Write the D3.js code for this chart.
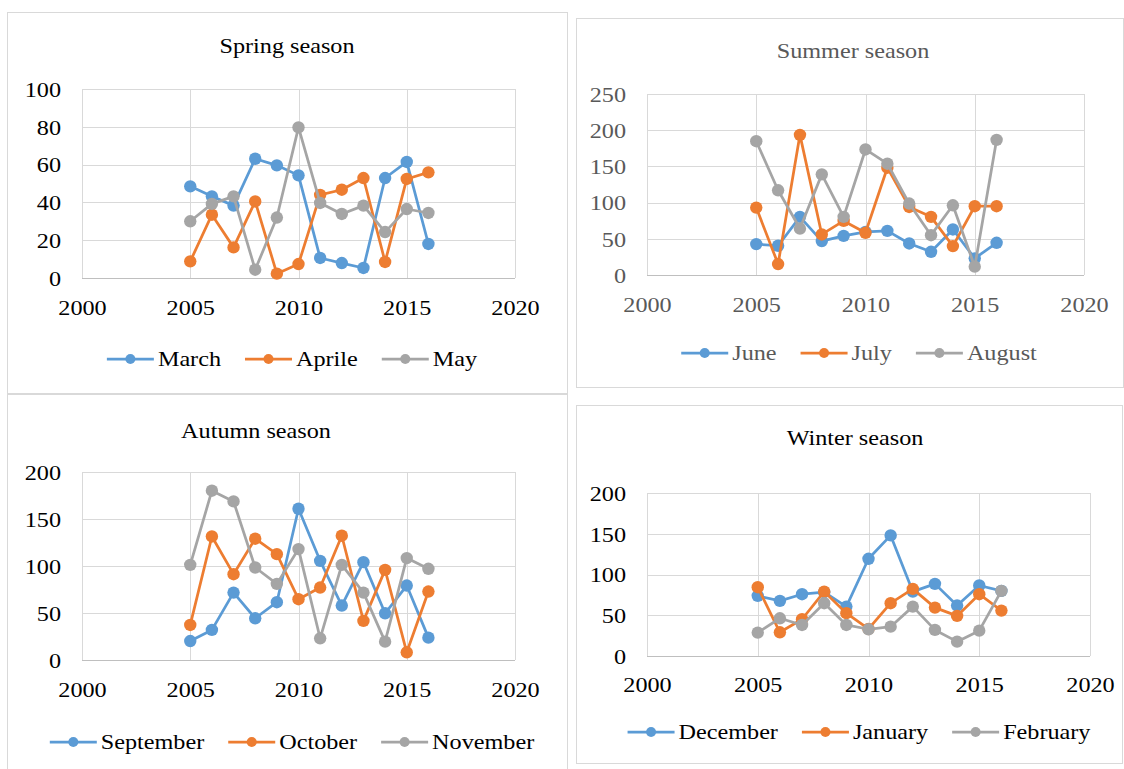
<!DOCTYPE html>
<html><head><meta charset="utf-8">
<script src="https://cdn.jsdelivr.net/npm/d3@7"></script>
<style>
body{margin:0;background:#fff}
svg{display:block}
text{font-family:"Liberation Serif","Times New Roman",serif}
</style>
</head><body>
<svg id="c" width="1124" height="769"></svg>
<script>
// ---------- data ----------
const years = [2005, 2006, 2007, 2008, 2009, 2010, 2011, 2012, 2013, 2014, 2015, 2016];
const xTicks = [2000, 2005, 2010, 2015, 2020];

const springNames = ["March", "Aprile", "May"];
const march  = [48.5, 43.2, 38.3, 63.1, 59.6, 54.3, 10.6, 7.9, 5.3, 52.9, 61.4, 18.0];
const aprile = [8.8, 33.5, 16.2, 40.5, 2.3, 7.4, 44.0, 46.7, 52.9, 8.5, 52.4, 55.9];
const may    = [30.0, 39.2, 43.2, 4.4, 32.0, 79.7, 39.7, 33.9, 38.3, 24.3, 36.5, 34.4];
const springTicks = [0, 20, 40, 60, 80, 100];

const summerNames = ["June", "July", "August"];
const june   = [42.7, 40.4, 80.3, 46.8, 54.1, 59.6, 61.0, 43.6, 32.1, 62.9, 23.0, 44.5];
const july   = [93.1, 15.1, 193.6, 56.0, 74.7, 58.3, 148.2, 94.0, 80.3, 39.9, 95.0, 95.0];
const august = [184.8, 117.0, 64.2, 139.0, 80.3, 173.4, 153.7, 98.7, 55.0, 96.3, 11.5, 186.7];
const summerTicks = [0, 50, 100, 150, 200, 250];

const autumnNames = ["September", "October", "November"];
const september = [20.2, 32.0, 71.7, 44.4, 61.5, 160.9, 105.5, 57.9, 104.1, 49.7, 79.2, 23.8];
const october   = [37.3, 131.4, 91.3, 129.0, 112.6, 64.7, 77.1, 132.2, 41.6, 95.9, 8.2, 72.8];
const november  = [101.2, 180.1, 168.7, 98.4, 81.0, 118.0, 23.1, 101.2, 71.7, 19.5, 108.4, 97.0];
const autumnTicks = [0, 50, 100, 150, 200];

const winterNames = ["December", "January", "February"];
const december = [73.8, 67.6, 75.8, 78.3, 60.6, 119.3, 148.0, 79.0, 88.5, 61.9, 86.5, 79.9];
const january  = [84.4, 29.1, 45.1, 79.0, 52.5, 33.2, 64.8, 82.4, 59.4, 49.2, 75.8, 55.7];
const february = [28.7, 46.3, 38.1, 64.8, 38.1, 32.8, 36.0, 60.6, 32.0, 17.6, 31.1, 79.9];
const winterTicks = [0, 50, 100, 150, 200];

const colors = ["#5B9BD5", "#ED7D31", "#A5A5A5"];

// ---------- layout ----------
const panels = [
  {title:"Spring season", names:springNames, series:[march, aprile, may], yTicks:springTicks,
   box:[7,12,567,393], plot:[82,89,515,278], titleX:287, titleY:53, xLabelY:315, legendY:359, legendCX:292, ink:"#000"},
  {title:"Summer season", names:summerNames, series:[june, july, august], yTicks:summerTicks,
   box:[576,18,1123,387], plot:[647,94,1084,275], titleX:853, titleY:58, xLabelY:312, legendY:353, legendCX:859, ink:"#595959"},
  {title:"Autumn season", names:autumnNames, series:[september, october, november], yTicks:autumnTicks,
   box:[7,394,567,790], plot:[82,472,515,660], titleX:256, titleY:438, xLabelY:697, legendY:742, legendCX:292, ink:"#000"},
  {title:"Winter season", names:winterNames, series:[december, january, february], yTicks:winterTicks,
   box:[576,405,1122,763], plot:[647,493,1090,656], titleX:855, titleY:445, xLabelY:692, legendY:732, legendCX:859, ink:"#000"}
];

const SX = 1.1;       // horizontal stretch of the text in the reference
const FS = 22;
const svg = d3.select("#c");

panels.forEach(p => {
  const g = svg.append("g");
  const [bx0, by0, bx1, by1] = p.box;
  g.append("rect").attr("x", bx0 + 0.5).attr("y", by0 + 0.5)
    .attr("width", bx1 - bx0).attr("height", by1 - by0)
    .attr("fill", "#fff").attr("stroke", "#D9D9D9").attr("stroke-width", 1);

  const [px0, py0, px1, py1] = p.plot;
  const x = d3.scaleLinear().domain([2000, 2020]).range([px0, px1]);
  const y = d3.scaleLinear().domain([0, d3.max(p.yTicks)]).range([py1, py0]);

  // gridlines
  g.append("g").attr("transform", `translate(${px0},0)`)
    .call(d3.axisLeft(y).tickValues(p.yTicks).tickSize(-(px1 - px0)).tickFormat(""))
    .call(a => a.select(".domain").remove())
    .call(a => a.selectAll("line").attr("stroke", "#D9D9D9").attr("stroke-width", 1)
      .attr("shape-rendering", "crispEdges"));
  g.append("g").attr("transform", `translate(0,${py1})`)
    .call(d3.axisBottom(x).tickValues(xTicks).tickSize(-(py1 - py0)).tickFormat(""))
    .call(a => a.select(".domain").remove())
    .call(a => a.selectAll("line").attr("stroke", "#D9D9D9").attr("stroke-width", 1)
      .attr("shape-rendering", "crispEdges"));
  // axis baseline
  g.append("line").attr("x1", px0).attr("x2", px1).attr("y1", py1).attr("y2", py1)
    .attr("stroke", "#BFBFBF").attr("stroke-width", 1).attr("shape-rendering", "crispEdges");

  // y labels
  const ya = g.append("g").attr("transform", `translate(${px0},0)`)
    .call(d3.axisLeft(y).tickValues(p.yTicks).tickSize(0).tickFormat(d3.format("d")));
  ya.select(".domain").remove();
  ya.selectAll("text").attr("x", 0).attr("dy", "0.33em")
    .attr("transform", `translate(-21,0) scale(${SX},1)`)
    .attr("font-size", FS).attr("fill", p.ink)
    .style("font-family", '"Liberation Serif","Times New Roman",serif');

  // x labels
  const xa = g.append("g").attr("transform", `translate(0,${py1})`)
    .call(d3.axisBottom(x).tickValues(xTicks).tickSize(0).tickFormat(d3.format("d")));
  xa.select(".domain").remove();
  xa.selectAll("text").attr("y", 0).attr("dy", 0)
    .attr("transform", `translate(0,${p.xLabelY - py1}) scale(${SX},1)`)
    .attr("font-size", FS).attr("fill", p.ink)
    .style("font-family", '"Liberation Serif","Times New Roman",serif');

  // title
  g.append("text").attr("transform", `translate(${p.titleX},${p.titleY}) scale(${SX},1)`)
    .attr("text-anchor", "middle").attr("font-size", FS).attr("fill", p.ink)
    .text(p.title);

  // series
  const line = d3.line().x((d, i) => x(years[i])).y(d => y(d));
  p.series.forEach((s, k) => {
    const sg = g.append("g");
    sg.append("path").datum(s).attr("d", line).attr("fill", "none")
      .attr("stroke", colors[k]).attr("stroke-width", 2.75)
      .attr("stroke-linejoin", "round").attr("stroke-linecap", "round");
    sg.selectAll("circle").data(s).join("circle")
      .attr("cx", (d, i) => x(years[i])).attr("cy", d => y(d))
      .attr("r", 6.2).attr("fill", colors[k]);
  });

  // legend
  const lg = g.append("g");
  const items = p.names.map((n, k) => {
    const it = lg.append("g");
    it.append("line").attr("x1", 0).attr("x2", 47).attr("y1", 0).attr("y2", 0)
      .attr("stroke", colors[k]).attr("stroke-width", 2.75);
    it.append("circle").attr("cx", 23.5).attr("cy", 0).attr("r", 5).attr("fill", colors[k]);
    const t = it.append("text").attr("transform", `translate(51,0) scale(${SX},1)`)
      .attr("dy", "0.33em").attr("font-size", FS).attr("fill", p.ink).text(n);
    const w = 51 + t.node().getComputedTextLength() * SX;
    return {it, w};
  });
  const gap = 24;
  const total = d3.sum(items, d => d.w) + gap * (items.length - 1);
  let cx = p.legendCX - total / 2;
  items.forEach(d => {
    d.it.attr("transform", `translate(${cx},${p.legendY})`);
    cx += d.w + gap;
  });
});
</script>
</body></html>
